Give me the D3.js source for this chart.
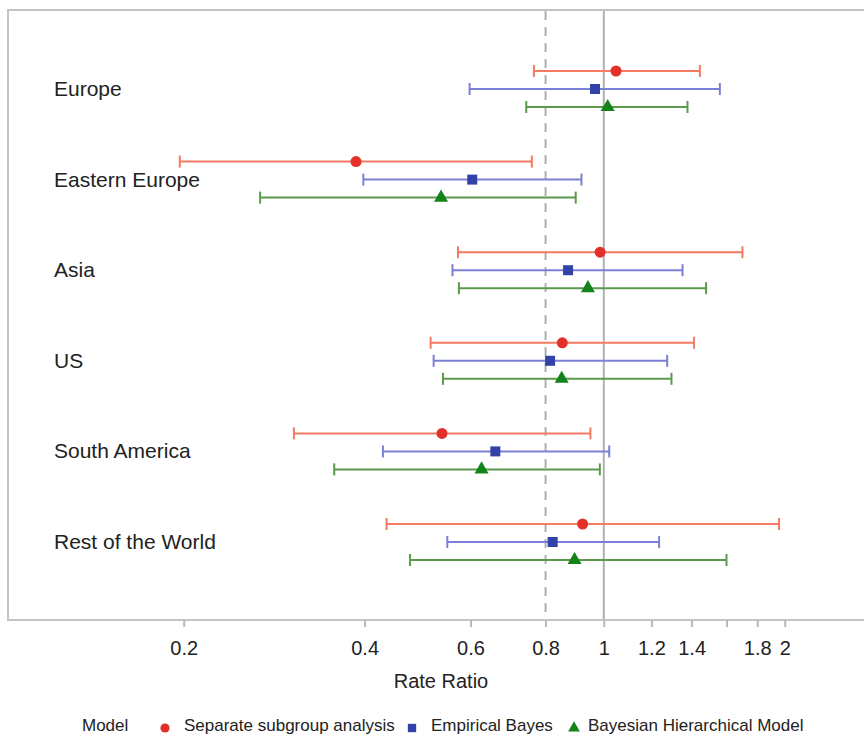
<!DOCTYPE html>
<html>
<head>
<meta charset="utf-8">
<script src="https://cdn.jsdelivr.net/npm/d3@7"></script>
<style>
  body { margin: 0; background: #fff; }
  text { font-family: "Liberation Sans", Arial, Helvetica, sans-serif; fill: #222; }
</style>
</head>
<body>
<div id="chart"></div>
<script>
var regions = ["Europe", "Eastern Europe", "Asia", "US", "South America", "Rest of the World"];
var models = ["Separate subgroup analysis", "Empirical Bayes", "Bayesian Hierarchical Model"];

// estimate, lower, upper per region (same order as regions)
var separateEst   = [1.048, 0.387, 0.986, 0.853, 0.538, 0.922];
var separateLow   = [0.765, 0.197, 0.572, 0.515, 0.305, 0.435];
var separateHigh  = [1.445, 0.759, 1.701, 1.413, 0.950, 1.957];

var empiricalEst  = [0.967, 0.604, 0.872, 0.814, 0.660, 0.822];
var empiricalLow  = [0.598, 0.398, 0.560, 0.521, 0.429, 0.549];
var empiricalHigh = [1.560, 0.918, 1.352, 1.275, 1.021, 1.236];

var bayesEst      = [1.015, 0.536, 0.941, 0.851, 0.626, 0.894];
var bayesLow      = [0.743, 0.268, 0.574, 0.540, 0.356, 0.476];
var bayesHigh     = [1.378, 0.898, 1.480, 1.296, 0.985, 1.600];

var tickValues = [0.2, 0.4, 0.6, 0.8, 1, 1.2, 1.4, 1.6, 1.8, 2];
var tickLabels = ["0.2", "0.4", "0.6", "0.8", "1", "1.2", "1.4", "", "1.8", "2"];

var width = 864, height = 736;

var svg = d3.select("#chart").append("svg")
  .attr("width", width)
  .attr("height", height);

var x = d3.scaleLog().domain([0.102, 2.71]).range([8, 864]);
var y = d3.scaleBand().domain(regions).range([43.7, 587.3]);
var yModel = d3.scalePoint().domain(models).range([-18, 18]);
var color = d3.scaleOrdinal().domain(models).range(["#f47a62", "#7a80d6", "#5b9a4c"]);
var markColor = d3.scaleOrdinal().domain(models).range(["#e4302a", "#3242a6", "#13831a"]);
var symbol = d3.scaleOrdinal().domain(models).range([d3.symbolCircle, d3.symbolSquare, d3.symbolTriangle]);
var symbolSize = d3.scaleOrdinal().domain(models).range([95, 100, 85]);

var rows = [];
var sets = [[separateEst, separateLow, separateHigh], [empiricalEst, empiricalLow, empiricalHigh], [bayesEst, bayesLow, bayesHigh]];
regions.forEach(function (r, i) {
  models.forEach(function (m, j) {
    rows.push({ region: r, model: m, est: sets[j][0][i], lo: sets[j][1][i], hi: sets[j][2][i] });
  });
});

// frame
svg.append("rect")
  .attr("x", 8).attr("y", 10)
  .attr("width", 870).attr("height", 610)
  .attr("fill", "none")
  .attr("stroke", "#c4c4c4")
  .attr("stroke-width", 2);

// reference lines
svg.append("line")
  .attr("x1", x(0.8)).attr("x2", x(0.8))
  .attr("y1", 11).attr("y2", 619)
  .attr("stroke", "#b0b0b0").attr("stroke-width", 2)
  .attr("stroke-dasharray", "9,7");

svg.append("line")
  .attr("x1", x(1)).attr("x2", x(1))
  .attr("y1", 11).attr("y2", 619)
  .attr("stroke", "#b0b0b0").attr("stroke-width", 2);

// region labels
svg.selectAll(".region")
  .data(regions)
  .enter().append("text")
  .attr("class", "region")
  .attr("x", 54)
  .attr("y", function (d) { return y(d) + y.bandwidth() / 2 + 7; })
  .style("font-size", "21px")
  .text(function (d) { return d; });

// error bars
var g = svg.selectAll(".bar")
  .data(rows)
  .enter().append("g")
  .attr("class", "bar")
  .attr("transform", function (d) {
    return "translate(0," + (y(d.region) + y.bandwidth() / 2 + yModel(d.model)) + ")";
  });

g.append("line")
  .attr("x1", function (d) { return x(d.lo); })
  .attr("x2", function (d) { return x(d.hi); })
  .attr("stroke", function (d) { return color(d.model); })
  .attr("stroke-width", 2);

g.append("line")
  .attr("x1", function (d) { return x(d.lo); })
  .attr("x2", function (d) { return x(d.lo); })
  .attr("y1", -6).attr("y2", 6)
  .attr("stroke", function (d) { return color(d.model); })
  .attr("stroke-width", 2);

g.append("line")
  .attr("x1", function (d) { return x(d.hi); })
  .attr("x2", function (d) { return x(d.hi); })
  .attr("y1", -6).attr("y2", 6)
  .attr("stroke", function (d) { return color(d.model); })
  .attr("stroke-width", 2);

g.append("path")
  .attr("transform", function (d) { return "translate(" + x(d.est) + ",0)"; })
  .attr("d", function (d) { return d3.symbol().type(symbol(d.model)).size(symbolSize(d.model))(); })
  .attr("fill", function (d) { return markColor(d.model); });

// x axis
var axis = svg.append("g")
  .attr("transform", "translate(0,620)")
  .call(d3.axisBottom(x)
    .tickValues(tickValues)
    .tickFormat(function (d, i) { return tickLabels[i]; })
    .tickSize(7)
    .tickPadding(14));

axis.select(".domain").remove();
axis.selectAll(".tick line").attr("stroke", "#b8b8b8").attr("stroke-width", 2);
axis.selectAll(".tick text")
  .style("font-size", "20px")
  .attr("fill", "#222");

svg.append("text")
  .attr("x", 441)
  .attr("y", 688)
  .attr("text-anchor", "middle")
  .style("font-size", "20px")
  .text("Rate Ratio");

// legend
var legend = svg.append("g").attr("transform", "translate(0,726)");

legend.append("text")
  .attr("x", 82).attr("y", 5)
  .style("font-size", "17px")
  .text("Model");

var legendX = [165, 412, 574];
models.forEach(function (m, i) {
  legend.append("path")
    .attr("transform", "translate(" + legendX[i] + ",2)")
    .attr("d", d3.symbol().type(symbol(m)).size(symbolSize(m) * 0.7)())
    .attr("fill", markColor(m));
  legend.append("text")
    .attr("x", legendX[i] + (i === 2 ? 14 : 19))
    .attr("y", 5)
    .style("font-size", "17px")
    .text(m);
});
</script>
</body>
</html>
